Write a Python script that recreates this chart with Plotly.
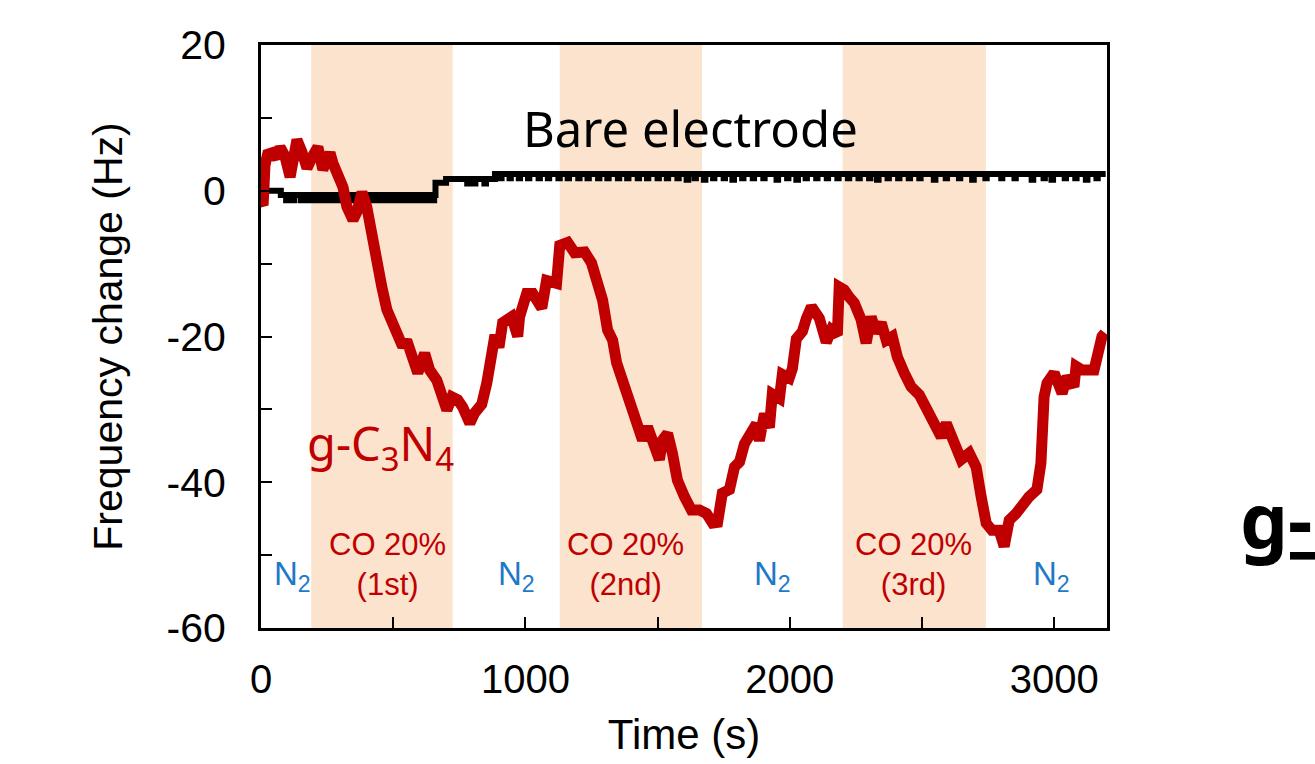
import plotly.graph_objects as go

# ---------------- data ----------------
gcn_time = [0, 8, 15, 25, 42, 60, 72, 90, 110, 117, 136, 155, 174, 193, 215, 234, 261, 272, 291, 310,
            325, 348, 363, 382, 400, 419, 438, 457, 476, 495, 518, 536, 551, 570, 593, 619, 638, 665,
            684, 703, 722, 744, 763, 790, 808, 835, 854, 873, 885, 900, 914, 948, 971, 978, 1005, 1028,
            1062, 1080, 1118, 1130, 1160, 1186, 1224, 1250, 1273, 1292, 1311, 1330, 1345, 1368, 1386,
            1405, 1424, 1443, 1462, 1481, 1507, 1519, 1538, 1556, 1575, 1602, 1628, 1658, 1685, 1708,
            1727, 1745, 1772, 1791, 1810, 1829, 1855, 1874, 1885, 1904, 1923, 1934, 1961, 1972, 1998,
            2010, 2025, 2048, 2063, 2082, 2112, 2138, 2157, 2180, 2187, 2206, 2225, 2244, 2270, 2289,
            2308, 2327, 2346, 2365, 2388, 2407, 2433, 2459, 2490, 2516, 2539, 2573, 2592, 2614, 2648,
            2679, 2705, 2724, 2743, 2765, 2792, 2811, 2830, 2856, 2879, 2905, 2935, 2950, 2962, 2973,
            3000, 3030, 3049, 3075, 3083, 3105, 3151, 3160, 3181, 3192]
gcn_freq = [-1.5, -2.0, 3.5, 5.0, 5.2, 4.5, 6.0, 4.8, 1.9, 3.8, 7.0, 5.3, 3.1, 4.6, 6.0, 2.9, 5.2, 3.8, 1.9, 0.5,
            -2.2, -4.0, -2.9, -0.2, -2.2, -6.3, -9.9, -13.2, -16.3, -17.7, -19.5, -21.4, -20.5, -23.2, -25.0, -22.3, -24.6, -26.0,
            -28.3, -30.1, -28.3, -28.7, -29.7, -31.9, -30.5, -29.3, -26.4, -20.5, -19.8, -21.5, -18.1, -17.3, -20.0, -17.3, -14.1, -14.1,
            -16.1, -12.3, -12.7, -7.5, -7.1, -8.5, -8.4, -9.9, -12.7, -15.0, -19.1, -20.5, -23.6, -26.0, -28.7,
            -30.5, -32.8, -34.2, -32.4, -34.6, -36.9, -34.2, -33.3, -36.0, -39.7, -42.0, -43.8, -43.8, -44.3, -45.6,
            -45.5, -41.5, -41.0, -37.9, -37.2, -34.7, -33.3, -32.0, -34.3, -30.6, -32.5, -27.9, -28.5, -25.2, -25.7,
            -24.4, -20.3, -19.3, -17.5, -15.9, -17.5, -20.8, -19.1, -19.8, -13.2, -13.6, -14.6, -15.4, -17.7, -20.9,
            -17.3, -19.5, -18.1, -20.5, -20.0, -22.8, -25.0, -26.9, -28.0, -29.7, -31.0, -33.8, -31.9, -33.8, -36.9,
            -36.0, -37.9, -42.0, -45.6, -46.6, -46.6, -48.8, -45.2, -44.3, -42.9, -42.0, -41.0, -37.4, -28.3, -26.4,
            -25.0, -27.8, -25.5, -26.9, -24.1, -24.6, -24.6, -22.8, -20.0, -19.5]

bare_time = [0, 75, 95, 100, 120, 125, 150, 155, 175, 180, 200, 205, 225, 230, 250, 255, 275, 280, 300, 305,
             325, 330, 350, 355, 375, 380, 400, 405, 425, 430, 450, 455, 475, 480, 500, 505, 525, 530,
             550, 555, 575, 580, 600, 605, 625, 630, 650, 655, 660, 700, 780, 786, 805, 811, 845, 851, 885,
             905, 910, 940, 945, 975, 980, 1010, 1015, 1050, 1055, 1085, 1090, 1125, 1130, 1160, 1165,
             1200, 1205, 1235, 1240, 1275, 1280, 1310, 1315, 1350, 1355, 1385, 1390, 1425, 1430,
             1460, 1465, 1500, 1505, 1535, 1540, 1575, 1580, 1610, 1616, 1640, 1645, 1675, 1681,
             1710, 1715, 1750, 1755, 1783, 1789, 1820, 1825, 1860, 1865, 1900, 1905, 1950, 1956,
             1990, 1995, 2025, 2031, 2060, 2065, 2100, 2105, 2140, 2145, 2180, 2185, 2220, 2225,
             2260, 2265, 2300, 2305, 2330, 2336, 2370, 2375, 2410, 2415, 2450, 2455, 2490, 2495,
             2545, 2551, 2590, 2595, 2640, 2645, 2690, 2696, 2740, 2745, 2800, 2804, 2850, 2855,
             2915, 2921, 2960, 2965, 2990, 2996, 3040, 3045, 3080, 3085, 3120, 3126, 3160, 3165, 3195]
bare_freq = [0.0, -0.6, -1.3, -0.6, -1.3, -0.6, -1.3, -0.6, -1.3, -0.6, -1.3, -0.6, -1.3, -0.6, -1.3, -0.6, -1.3, -0.6, -1.3, -0.6,
             -1.3, -0.6, -1.3, -0.6, -1.3, -0.6, -1.3, -0.6, -1.3, -0.6, -1.3, -0.6, -1.3, -0.6, -1.3, -0.6, -1.3, -0.6,
             -1.3, -0.6, -1.3, -0.6, -1.3, -0.6, -1.3, -0.6, -1.3, -0.6, 1.1, 1.6, 1.0, 1.6, 1.0, 1.6, 1.0, 1.6, 2.3,
             1.7, 2.3, 1.7, 2.3, 1.7, 2.3, 1.7, 2.3, 1.7, 2.3, 1.7, 2.3, 1.7, 2.3, 1.7, 2.3,
             1.7, 2.3, 1.7, 2.3, 1.7, 2.3, 1.7, 2.3, 1.7, 2.3, 1.7, 2.3, 1.7, 2.3,
             1.7, 2.3, 1.7, 2.3, 1.7, 2.3, 1.7, 2.3, 1.5, 2.3, 1.7, 2.3, 1.5, 2.3,
             1.7, 2.3, 1.7, 2.3, 1.5, 2.3, 1.7, 2.3, 1.7, 2.3, 1.7, 2.3, 1.5, 2.3,
             1.7, 2.3, 1.5, 2.3, 1.7, 2.3, 1.7, 2.3, 1.7, 2.3, 1.7, 2.3, 1.7, 2.3,
             1.7, 2.3, 1.7, 2.3, 1.5, 2.3, 1.7, 2.3, 1.7, 2.3, 1.7, 2.3, 1.7, 2.3,
             1.5, 2.3, 1.7, 2.3, 1.7, 2.3, 1.5, 2.3, 1.7, 2.3, 1.7, 2.3, 1.7, 2.3,
             1.5, 2.3, 1.7, 2.3, 1.5, 2.3, 1.7, 2.3, 1.7, 2.3, 1.5, 2.3, 1.7, 2.3, 2.3]

co_start = [190, 1130, 2200]
co_end = [725, 1668, 2742]
co_labels = ["CO 20%<br>(1st)", "CO 20%<br>(2nd)", "CO 20%<br>(3rd)"]
co_label_x = [480, 1378, 2468]
n2_label_x = [118, 968, 1934, 2990]

x_tickvals = [0, 1000, 2000, 3000]
x_ticktext = ["0", "1000", "2000", "3000"]
y_tickvals = [-60, -40, -20, 0, 20]
y_ticktext = ["-60", "-40", "-20", "0", "20"]

# ---------------- figure ----------------
RED = "#C00000"
BLUE = "#1F78C8"
SHADE = "#FCE3CD"
W, H = 1315, 764
L, R, T, B = 261, 208, 45, 136

fig = go.Figure()

fig.add_trace(go.Scatter(x=bare_time, y=bare_freq, mode="lines", line=dict(color="black", width=6, shape="hv"),
                         showlegend=False, hoverinfo="skip"))
fig.add_trace(go.Scatter(x=gcn_time, y=gcn_freq, mode="lines", line=dict(color=RED, width=11),
                         showlegend=False, hoverinfo="skip"))

for s, e in zip(co_start, co_end):
    fig.add_shape(type="rect", xref="x", yref="paper", x0=s, x1=e, y0=0, y1=1,
                  fillcolor=SHADE, line=dict(width=0), layer="below")

ann = []
for lbl, x in zip(co_labels, co_label_x):
    ann.append(dict(x=x, y=-51.3, xref="x", yref="y", text=lbl, showarrow=False,
                    font=dict(family="Liberation Sans, Arial", size=31, color=RED), align="center"))
for x in n2_label_x:
    ann.append(dict(x=x, y=-52.8, xref="x", yref="y", text="N<sub>2</sub>", showarrow=False,
                    font=dict(family="Liberation Sans, Arial", size=33, color=BLUE)))
ann.append(dict(x=1625, y=8.6, xref="x", yref="y", text="Bare electrode", showarrow=False,
                font=dict(family="Noto Sans", size=49, color="black")))
ann.append(dict(x=166, y=-35.0, xref="x", yref="y", text="g-C<sub>3</sub>N<sub>4</sub>", showarrow=False,
                xanchor="left", font=dict(family="Noto Sans", size=47, color=RED)))
# partially visible heading at the right edge of the slide (clipped by the page edge)
pw, ph = W - L - R, H - T - B
ann.append(dict(x=(1238 - L) / pw, y=(H - B - 582) / ph, xref="paper", yref="paper",
                text="<b><u>g-C<sub>3</sub>N<sub>4</sub></u></b>",
                showarrow=False, xanchor="left", yanchor="bottom",
                font=dict(family="Noto Sans", size=76, color="black")))

fig.update_layout(
    width=W, height=H,
    margin=dict(l=L, r=R, t=T, b=B),
    paper_bgcolor="white", plot_bgcolor="white",
    annotations=ann,
    xaxis=dict(range=[0, 3200], tickvals=x_tickvals, ticktext=x_ticktext, ticks="inside", ticklen=11, tickwidth=2,
               tickcolor="black",
               minor=dict(dtick=500, tick0=0, ticks="inside", ticklen=11, tickwidth=2, tickcolor="black"),
               showline=True, linecolor="black", linewidth=3, mirror=True, showgrid=False, zeroline=False,
               tickfont=dict(family="Liberation Sans, Arial", size=40, color="black"), ticklabelstandoff=14,
               title=dict(text="Time (s)", font=dict(family="Liberation Sans, Arial", size=42, color="black"),
                          standoff=20)),
    yaxis=dict(range=[-60, 20], tickvals=y_tickvals, ticktext=y_ticktext, ticks="inside", ticklen=11, tickwidth=2,
               tickcolor="black",
               minor=dict(dtick=10, tick0=0, ticks="inside", ticklen=11, tickwidth=2, tickcolor="black"),
               showline=True, linecolor="black", linewidth=3, mirror=True, showgrid=False, zeroline=False,
               tickfont=dict(family="Liberation Sans, Arial", size=41, color="black"), ticklabelstandoff=24,
               title=dict(text="Frequency change (Hz)", font=dict(family="Liberation Sans, Arial", size=41, color="black"),
                          standoff=32)),
)

fig.write_html("out.html")
